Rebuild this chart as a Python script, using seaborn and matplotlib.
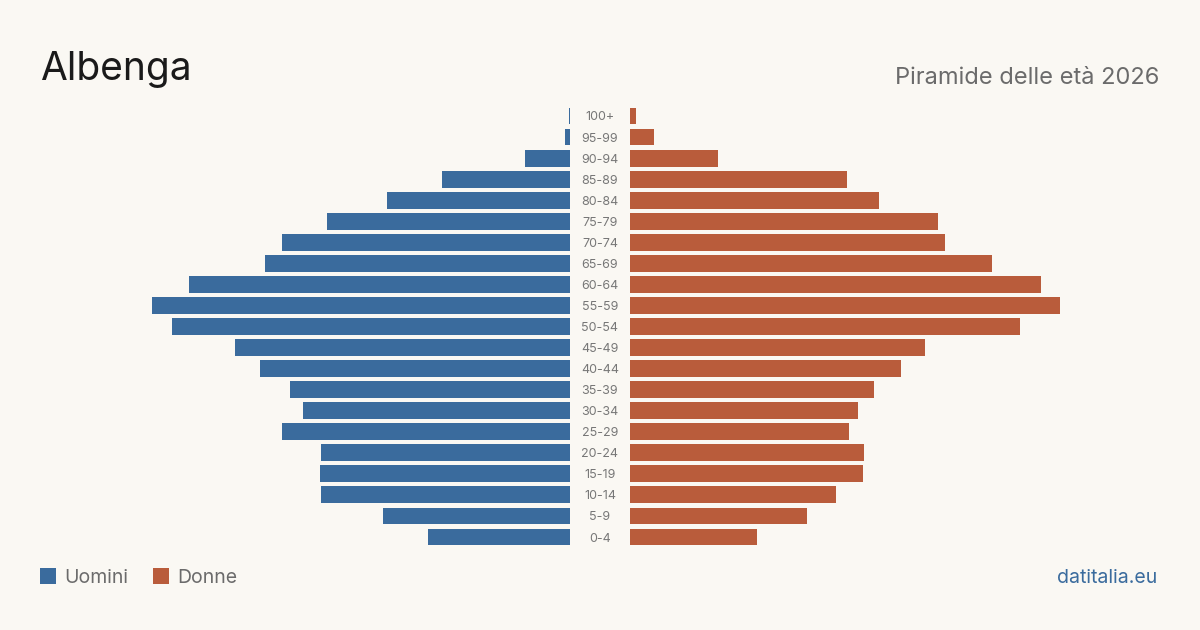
import matplotlib
matplotlib.use("Agg")
import matplotlib.pyplot as plt
from matplotlib.patches import Rectangle
import seaborn as sns
import pandas as pd

age_groups = ["100+", "95-99", "90-94", "85-89", "80-84", "75-79", "70-74", "65-69",
              "60-64", "55-59", "50-54", "45-49", "40-44", "35-39", "30-34", "25-29",
              "20-24", "15-19", "10-14", "5-9", "0-4"]
men = [1.5, 5, 45, 128, 183, 243, 288, 305, 381, 418, 398, 335, 310, 280, 267, 288,
       249, 250, 249, 187, 142]
women = [6, 24, 88, 217, 249, 308, 315, 362, 411, 430, 390, 295, 271, 244, 228, 219,
         234, 233, 206, 177, 127]

BG = "#faf8f3"
BLUE = "#3a6b9d"
ORANGE = "#b95c3b"

sns.set_theme(style="white")
plt.rcParams['font.family'] = ['Inter', 'DejaVu Sans']

df = pd.DataFrame({"age": age_groups, "men": men, "women": women})

W, H = 1200, 630
fig = plt.figure(figsize=(12, 6.3), dpi=100, facecolor=BG)

y_top = 105.5
y_bot = 547.5
scale = 430.0
axL = fig.add_axes([140 / W, 1 - y_bot / H, 430 / W, (y_bot - y_top) / H])
axR = fig.add_axes([630 / W, 1 - y_bot / H, 430 / W, (y_bot - y_top) / H])

sns.barplot(data=df, y="age", x="men", order=age_groups, orient="h", color=BLUE,
            width=0.8, ax=axL, saturation=1, linewidth=0, edgecolor="none")
sns.barplot(data=df, y="age", x="women", order=age_groups, orient="h", color=ORANGE,
            width=0.8, ax=axR, saturation=1, linewidth=0, edgecolor="none")

axL.set_xlim(scale, 0)
axR.set_xlim(0, scale)
for ax in (axL, axR):
    ax.set_ylim(len(age_groups) - 0.5, -0.5)
    ax.set_facecolor("none")
    ax.axis("off")

for i, a in enumerate(age_groups):
    yy = 116 + i * (537 - 116) / 20
    fig.text(600 / W, 1 - (yy + 1.5) / H, a, ha="center", va="center", fontsize=9,
             color="#777777")

fig.text(40 / W, 1 - 80 / H, "Albenga", fontsize=28, color="#1a1a1a",
         ha="left", va="baseline")
fig.text(1159 / W, 1 - 84 / H, "Piramide delle età 2026", fontsize=17,
         color="#6b6b6b", ha="right", va="baseline")

fig.add_artist(Rectangle((40 / W, 1 - 584 / H), 16 / W, 16 / H,
                         transform=fig.transFigure, color=BLUE, lw=0))
fig.text(64 / W, 1 - 583 / H, "Uomini", fontsize=14, color="#6b6b6b",
         ha="left", va="baseline")
fig.add_artist(Rectangle((153 / W, 1 - 584 / H), 16 / W, 16 / H,
                         transform=fig.transFigure, color=ORANGE, lw=0))
fig.text(177 / W, 1 - 583 / H, "Donne", fontsize=14, color="#6b6b6b",
         ha="left", va="baseline")
fig.text(1157 / W, 1 - 583 / H, "datitalia.eu", fontsize=14, color=BLUE,
         ha="right", va="baseline")

fig.savefig("out.png", dpi=100, facecolor=BG)
